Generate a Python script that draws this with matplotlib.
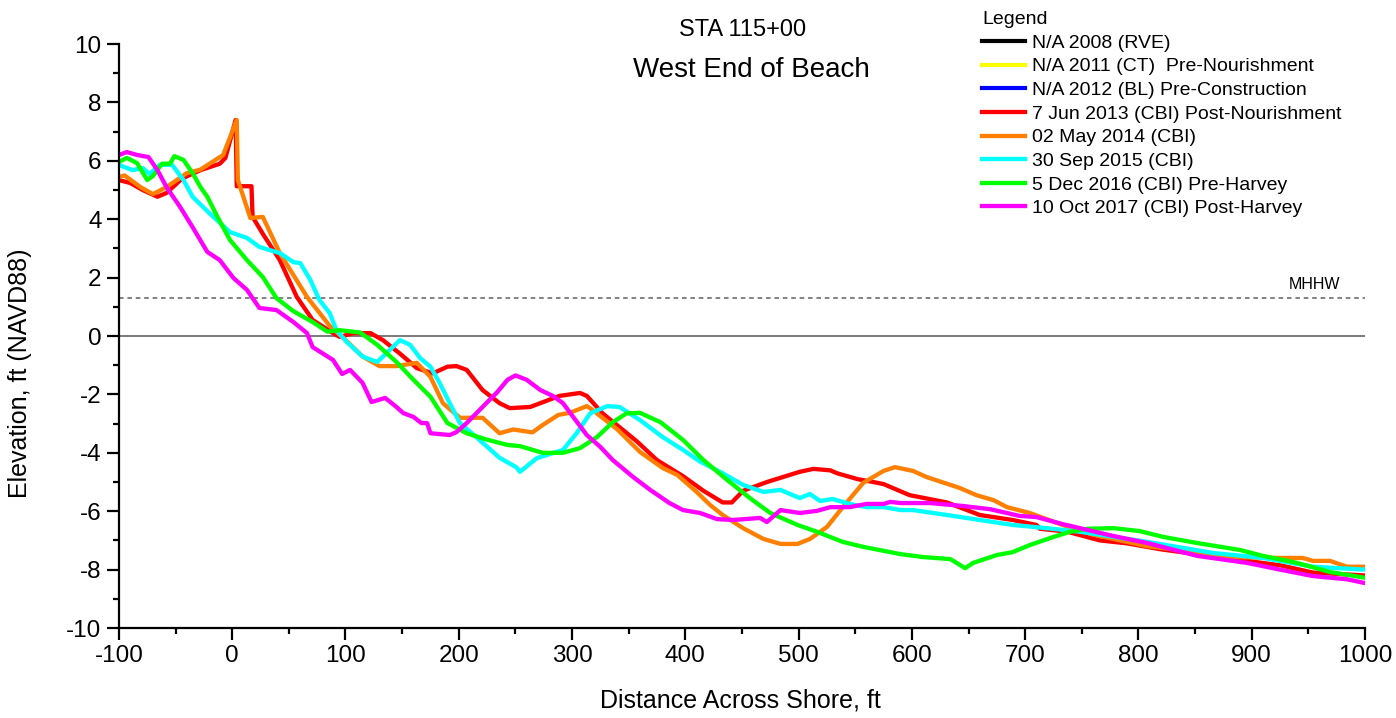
import numpy as np
import matplotlib
matplotlib.use("Agg")
import matplotlib.pyplot as plt
from matplotlib.ticker import MultipleLocator

plt.rcParams['font.family'] = ['Liberation Sans', 'DejaVu Sans']
plt.rcParams['axes.unicode_minus'] = False

# survey profiles (distance ft, elevation ft NAVD88)
x_2013 = [-100, -90, -79, -66, -58, -44, -28, -11, -6, 3, 4, 17, 18, 27, 42, 57, 71, 89, 95, 107,
          122, 133, 148, 163, 177, 190, 198, 207, 221, 236, 245, 263, 289, 307, 313, 327, 357, 375, 398, 416,
          433, 441, 451, 472, 501, 513, 528, 534, 552, 566, 575, 598, 631, 660, 689, 710, 713, 737, 766, 790,
          819, 866, 925, 954, 1000]
y_2013 = [5.34, 5.24, 5.0, 4.77, 4.9, 5.4, 5.68, 5.9, 6.1, 7.4, 5.13, 5.13, 4.08, 3.5, 2.6, 1.34, 0.55, 0.1, -0.03, 0.1,
          0.1, -0.14, -0.6, -1.1, -1.28, -1.05, -1.03, -1.16, -1.85, -2.3, -2.47, -2.43, -2.05, -1.95, -2.05, -2.65, -3.6, -4.25, -4.8, -5.3,
          -5.7, -5.7, -5.3, -5.0, -4.65, -4.55, -4.6, -4.7, -4.9, -5.0, -5.07, -5.45, -5.7, -6.13, -6.3, -6.47, -6.6, -6.7, -7.0, -7.1,
          -7.3, -7.55, -7.85, -8.1, -8.2]

x_2014 = [-100, -95, -81, -70, -58, -40, -28, -8, 4, 5, 16, 27, 42, 66, 86, 101, 115, 130, 145, 163,
          175, 186, 201, 221, 236, 248, 265, 274, 288, 298, 313, 318, 340, 360, 380, 393, 410, 422, 433, 451,
          469, 484, 499, 510, 525, 539, 557, 575, 585, 601, 613, 642, 657, 672, 684, 704, 733, 760, 808, 837,
          881, 925, 945, 954, 969, 984, 1000]
y_2014 = [5.45, 5.5, 5.1, 4.86, 5.1, 5.58, 5.7, 6.2, 7.4, 5.34, 4.04, 4.08, 2.84, 1.34, 0.35, -0.17, -0.7, -1.03, -1.03, -0.92,
          -1.4, -2.3, -2.8, -2.8, -3.33, -3.2, -3.3, -3.05, -2.7, -2.63, -2.4, -2.53, -3.2, -3.97, -4.52, -4.76, -5.34, -5.79, -6.13, -6.58,
          -6.95, -7.12, -7.12, -6.95, -6.54, -5.86, -5.03, -4.62, -4.49, -4.62, -4.83, -5.2, -5.45, -5.62, -5.86, -6.06, -6.47, -6.8, -7.2, -7.33,
          -7.57, -7.6, -7.6, -7.7, -7.7, -7.9, -7.9]

x_2015 = [-100, -88, -79, -73, -64, -53, -43, -35, -20, -2, 13, 24, 42, 54, 60, 69, 77, 86, 92, 101,
          115, 128, 139, 148, 157, 166, 175, 183, 192, 201, 216, 236, 251, 254, 269, 292, 304, 316, 331, 342,
          360, 380, 398, 413, 433, 451, 469, 484, 501, 510, 519, 530, 545, 560, 575, 590, 601, 631, 660, 689,
          719, 748, 808, 866, 910, 954, 1000]
y_2015 = [5.86, 5.68, 5.75, 5.55, 5.86, 5.86, 5.34, 4.77, 4.2, 3.56, 3.36, 3.05, 2.84, 2.53, 2.5, 1.92, 1.23, 0.79, 0.2, -0.2,
          -0.7, -0.89, -0.48, -0.14, -0.3, -0.76, -1.05, -1.6, -2.3, -2.98, -3.48, -4.17, -4.5, -4.65, -4.18, -3.9, -3.33, -2.65, -2.4, -2.43,
          -2.88, -3.46, -3.9, -4.3, -4.7, -5.1, -5.34, -5.27, -5.55, -5.41, -5.65, -5.58, -5.75, -5.86, -5.86, -5.96, -5.96, -6.13, -6.3, -6.47,
          -6.58, -6.7, -7.05, -7.43, -7.6, -7.9, -8.0]

x_2016 = [-100, -93, -84, -75, -70, -62, -55, -51, -43, -35, -28, -22, -13, -2, 13, 27, 39, 54, 71, 84,
          95, 113, 128, 145, 160, 175, 190, 207, 225, 243, 254, 274, 292, 307, 322, 336, 348, 360, 378, 398,
          416, 437, 457, 475, 499, 516, 539, 557, 590, 610, 634, 647, 654, 675, 689, 704, 725, 740, 755, 778,
          801, 822, 852, 890, 910, 940, 969, 1000]
y_2016 = [5.96, 6.1, 5.92, 5.34, 5.48, 5.9, 5.9, 6.16, 6.03, 5.58, 5.1, 4.77, 4.08, 3.29, 2.6, 2.02, 1.3, 0.85, 0.48, 0.15,
          0.2, 0.12, -0.3, -0.89, -1.5, -2.08, -2.98, -3.33, -3.55, -3.73, -3.77, -4.0, -4.0, -3.84, -3.46, -2.95, -2.65, -2.63, -2.95, -3.56,
          -4.25, -4.93, -5.55, -6.06, -6.47, -6.7, -7.05, -7.22, -7.47, -7.57, -7.64, -7.95, -7.77, -7.5, -7.4, -7.16, -6.88, -6.7, -6.6, -6.58,
          -6.68, -6.88, -7.09, -7.33, -7.53, -7.77, -8.08, -8.28]

x_2017 = [-100, -93, -84, -74, -66, -58, -46, -35, -22, -11, 1, 13, 24, 39, 54, 66, 71, 89, 97, 104,
          115, 123, 135, 145, 151, 160, 167, 172, 175, 192, 198, 207, 221, 234, 243, 250, 260, 272, 283, 292,
          301, 313, 325, 336, 354, 369, 386, 398, 413, 428, 442, 466, 472, 484, 501, 516, 528, 545, 560, 575,
          581, 590, 616, 645, 669, 695, 710, 733, 778, 808, 852, 896, 925, 954, 984, 1000]
y_2017 = [6.2, 6.3, 6.2, 6.13, 5.68, 5.1, 4.42, 3.73, 2.88, 2.6, 1.99, 1.58, 0.96, 0.89, 0.48, 0.1, -0.38, -0.82, -1.3, -1.16,
          -1.6, -2.26, -2.12, -2.43, -2.64, -2.77, -2.98, -2.98, -3.33, -3.39, -3.29, -2.98, -2.43, -1.92, -1.5, -1.35, -1.5, -1.85, -2.05, -2.3,
          -2.77, -3.39, -3.8, -4.25, -4.83, -5.27, -5.72, -5.96, -6.06, -6.27, -6.3, -6.23, -6.37, -5.96, -6.06, -5.99, -5.86, -5.86, -5.75, -5.75,
          -5.68, -5.72, -5.72, -5.82, -5.93, -6.16, -6.2, -6.44, -6.85, -7.09, -7.53, -7.77, -8.0, -8.22, -8.33, -8.46]

labels = ['N/A 2008 (RVE)', 'N/A 2011 (CT)  Pre-Nourishment', 'N/A 2012 (BL) Pre-Construction',
          '7 Jun 2013 (CBI) Post-Nourishment', '02 May 2014 (CBI)', '30 Sep 2015 (CBI)',
          '5 Dec 2016 (CBI) Pre-Harvey', '10 Oct 2017 (CBI) Post-Harvey']
colors = ['#000000', '#FFFF00', '#0000FF', '#FF0000', '#FF8000', '#00FFFF', '#00FF00', '#FF00FF']
mhhw = 1.3

fig = plt.figure(figsize=(13.96, 7.18), dpi=100)
ax = fig.add_axes([0.0852, 0.1253, 0.8926, 0.8134])

ax.axhline(0, color='#707070', lw=1.3, zorder=1)
ax.axhline(mhhw, color='#606060', lw=1.1, ls=(0, (3, 2.5)), zorder=1)
ax.text(978, mhhw + 0.2, 'MHHW', ha='right', va='bottom', fontsize=11.5)

# first three surveys have no data at this station, legend only
for lab, c in zip(labels[:3], colors[:3]):
    ax.plot([], [], color=c, lw=3, label=lab)
series = [(x_2013, y_2013), (x_2014, y_2014), (x_2015, y_2015), (x_2016, y_2016), (x_2017, y_2017)]
for (xs, ys), lab, c in zip(series, labels[3:], colors[3:]):
    ax.plot(xs, ys, color=c, lw=3.1, label=lab, solid_joinstyle='round')

ax.set_xlim(-100, 1000)
ax.set_ylim(-10, 10)
ax.xaxis.set_major_locator(MultipleLocator(100))
ax.xaxis.set_minor_locator(MultipleLocator(50))
ax.yaxis.set_major_locator(MultipleLocator(2))
ax.yaxis.set_minor_locator(MultipleLocator(1))
for s in ['top', 'right']:
    ax.spines[s].set_visible(False)
for s in ['left', 'bottom']:
    ax.spines[s].set_linewidth(1.6)
ax.tick_params(which='major', direction='out', length=8.5, width=1.6, labelsize=17.5, pad=4)
ax.tick_params(which='minor', direction='out', length=4, width=1.6)

fig.text(0.014, 0.48, 'Elevation, ft (NAVD88)', rotation=90, ha='center', va='center', fontsize=18)
fig.text(0.53, 0.025, 'Distance Across Shore, ft', ha='center', va='center', fontsize=18)
fig.text(0.532, 0.958, 'STA 115+00', ha='center', va='center', fontsize=17)
fig.text(0.538, 0.902, 'West End of Beach', ha='center', va='center', fontsize=20)

leg = fig.legend(loc='upper left', bbox_to_anchor=(0.6967, 0.998), frameon=False, title='Legend',
                 alignment='left', fontsize=14, title_fontsize=14, borderpad=0,
                 handlelength=2.2, handletextpad=0.35, labelspacing=0.31)

fig.savefig('out.png', dpi=100)
